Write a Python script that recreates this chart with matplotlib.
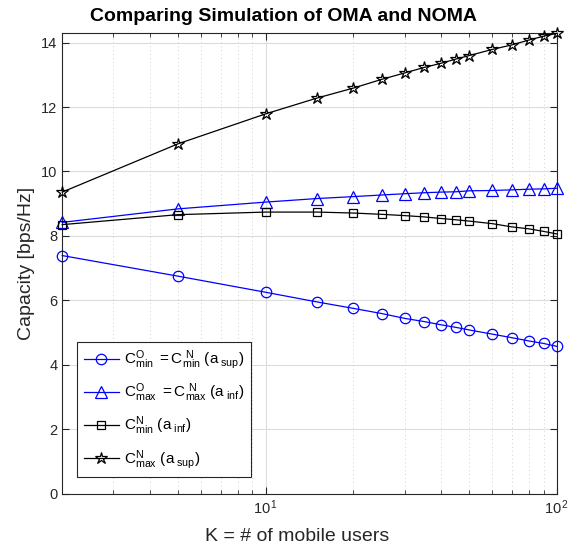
import matplotlib
matplotlib.use('Agg')
import matplotlib.pyplot as plt
from matplotlib.ticker import LogLocator, FixedLocator, NullFormatter

plt.rcParams['font.family'] = ['Liberation Sans', 'DejaVu Sans']
plt.rcParams['mathtext.fontset'] = 'custom'
plt.rcParams['mathtext.rm'] = 'Liberation Sans'
plt.rcParams['mathtext.it'] = 'Liberation Sans'

# number of mobile users K
K = [2, 5, 10, 15, 20, 25, 30, 35, 40, 45, 50, 60, 70, 80, 90, 100]

# capacities in bps/Hz
c_min_oma = [7.39, 6.75, 6.25, 5.95, 5.75, 5.59, 5.44, 5.34, 5.24, 5.16, 5.08,
             4.95, 4.84, 4.74, 4.66, 4.57]
c_max_oma = [8.42, 8.84, 9.05, 9.16, 9.22, 9.27, 9.31, 9.34, 9.36, 9.37, 9.40,
             9.41, 9.43, 9.45, 9.46, 9.48]
c_min_noma_inf = [8.35, 8.66, 8.74, 8.74, 8.71, 8.67, 8.63, 8.59, 8.54, 8.50,
                  8.46, 8.38, 8.28, 8.22, 8.14, 8.06]
c_max_noma_sup = [9.36, 10.86, 11.79, 12.28, 12.59, 12.86, 13.06, 13.23, 13.36,
                  13.49, 13.60, 13.79, 13.93, 14.08, 14.20, 14.29]

labels = [
    r'$\mathregular{C^{O}_{min}\ = C^{\ N}_{min}\ (a_{\ sup})}$',
    r'$\mathregular{C^{O}_{max}\ =C^{\ N}_{max}\ (a_{\ inf})}$',
    r'$\mathregular{C^{N}_{min}\ (a_{\ inf})}$',
    r'$\mathregular{C^{N}_{max}\ (a_{\ sup})}$',
]

fig = plt.figure(figsize=(5.76, 5.59), dpi=100)
ax = fig.add_axes([0.108, 0.117, 0.859, 0.824])

style = dict(lw=0.9, mfc='none', mew=0.9, clip_on=False, zorder=3)
ax.plot(K, c_min_oma, '-o', color='blue', ms=7.5, label=labels[0], **style)
ax.plot(K, c_max_oma, '-^', color='blue', ms=8, label=labels[1], **style)
ax.plot(K, c_min_noma_inf, '-s', color='black', ms=5.5, label=labels[2], **style)
ax.plot(K, c_max_noma_sup, '-*', color='black', ms=9, label=labels[3], **style)

ax.set_xscale('log')
ax.set_xlim(2, 100)
ax.set_ylim(0, 14.3)
ax.set_yticks([0, 2, 4, 6, 8, 10, 12, 14])
ax.xaxis.set_major_locator(FixedLocator([10, 100]))
ax.set_xticklabels([r'$\mathregular{10^{\,1}}$', r'$\mathregular{10^{\,2}}$'])
ax.xaxis.set_minor_locator(LogLocator(base=10, subs=range(2, 10)))
ax.xaxis.set_minor_formatter(NullFormatter())

ax.grid(True, which='major', color='#dcdcdc', lw=0.8)
ax.grid(True, which='minor', axis='x', color='#d0d0d0', lw=0.7, ls=(0, (1, 3)))
ax.set_axisbelow(True)

ax.tick_params(which='both', direction='in', top=True, right=True, labelsize=10.5, colors='#262626')
ax.tick_params(which='major', length=5)
ax.tick_params(which='minor', length=3)
for s in ax.spines.values():
    s.set_color('#262626')
    s.set_linewidth(0.8)

fig.text(283 / 576, 1 - 21 / 559, 'Comparing Simulation of OMA and NOMA',
         fontsize=14, fontweight='bold', ha='center', va='baseline')
ax.set_ylabel('Capacity [bps/Hz]', fontsize=14, color='#262626')
ax.set_xlabel('K = # of mobile users', fontsize=14, color='#262626')
ax.xaxis.set_label_coords(0.475, -0.075)

leg = ax.legend(loc='lower left', bbox_to_anchor=(0.03, 0.035), fontsize=11, fancybox=False,
                edgecolor='#262626', framealpha=1, handlelength=2.3, labelspacing=0.68,
                borderpad=0.45, handletextpad=0.3, borderaxespad=0)
leg.get_frame().set_linewidth(0.8)

fig.savefig('out.png', dpi=100)
